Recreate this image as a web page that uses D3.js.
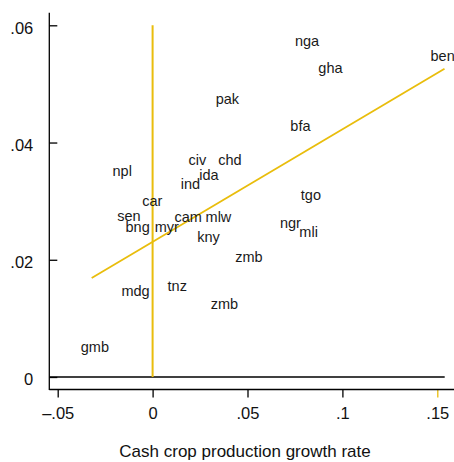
<!DOCTYPE html>
<html>
<head>
<meta charset="utf-8">
<script src="https://cdn.jsdelivr.net/npm/d3@7"></script>
<style>
  html, body { margin: 0; padding: 0; background: #fff; }
  svg { display: block; font-family: "Liberation Sans", Arial, Helvetica, sans-serif; }
</style>
</head>
<body>
<svg id="chart" width="454" height="462"></svg>
<script>
// Country codes and their (cash crop growth, outcome growth) coordinates
const countries = ["nga", "gha", "ben", "pak", "bfa", "civ", "chd", "npl", "ida", "ind",
                   "car", "tgo", "sen", "cam", "mlw", "bng", "myr", "ngr", "mli", "kny",
                   "zmb", "mdg", "tnz", "zmb", "gmb"];
const cropGrowth = [0.0814, 0.0937, 0.1528, 0.0394, 0.0779, 0.0236, 0.0407, -0.0160, 0.0297, 0.0199,
                    -0.0002, 0.0834, -0.0125, 0.0187, 0.0347, -0.0079, 0.0075, 0.0726, 0.0822, 0.0295,
                    0.0507, -0.0090, 0.0130, 0.0378, -0.0304];
const outcomeGrowth = [0.0573, 0.0528, 0.0548, 0.0475, 0.0428, 0.0370, 0.0370, 0.0351, 0.0344, 0.0330,
                       0.0301, 0.0311, 0.0275, 0.0273, 0.0273, 0.0256, 0.0256, 0.0262, 0.0248, 0.0239,
                       0.0205, 0.0147, 0.0156, 0.0124, 0.0051];

// Fitted line endpoints
const fitX = [-0.0321, 0.1538];
const fitY = [0.0169, 0.0526];

// Axis ticks
const xTicks = [-0.05, 0, 0.05, 0.1, 0.15];
const xTickLabels = ["\u2013.05", "0", ".05", ".1", ".15"];
const yTicks = [0, 0.02, 0.04, 0.06];
const yTickLabels = ["0", ".02", ".04", ".06"];
const xTitle = "Cash crop production growth rate";

const gold = "#e9bd0c";
const svg = d3.select("#chart");

const x = d3.scaleLinear().domain([-0.05, 0.15]).range([57.7, 437.3]);
const y = d3.scaleLinear().domain([0, 0.06]).range([377, 25.3]);

const axisLeftX = 49.3, axisBottomY = 389.5;

// Y axis: line, inward ticks, labels on the left
const yAxis = d3.axisLeft(y)
  .tickValues(yTicks)
  .tickFormat((d, i) => yTickLabels[i])
  .tickSizeInner(-8)
  .tickSizeOuter(0)
  .tickPadding(16);
const gy = svg.append("g").attr("transform", `translate(${axisLeftX},0)`).call(yAxis);
gy.select(".domain").remove();
gy.selectAll(".tick line").attr("stroke", "#000").attr("stroke-width", 1.3);
gy.selectAll(".tick text")
  .attr("font-size", 16.5)
  .attr("fill", "#111")
  .attr("font-family", "Liberation Sans, Arial, sans-serif")
  .attr("dy", "0.48em");

svg.append("line")
  .attr("x1", axisLeftX).attr("x2", axisLeftX)
  .attr("y1", 12.7).attr("y2", axisBottomY + 0.6)
  .attr("stroke", "#000").attr("stroke-width", 1.3);

// X axis
const xAxis = d3.axisBottom(x)
  .tickValues(xTicks)
  .tickFormat((d, i) => xTickLabels[i])
  .tickSizeInner(8)
  .tickSizeOuter(0)
  .tickPadding(10);
const gx = svg.append("g").attr("transform", `translate(0,${axisBottomY})`).call(xAxis);
gx.select(".domain").remove();
gx.selectAll(".tick line")
  .attr("stroke", d => d === 0.15 ? gold : "#000")
  .attr("stroke-width", 1.3);
gx.selectAll(".tick text")
  .attr("font-size", 16.5)
  .attr("fill", "#111")
  .attr("font-family", "Liberation Sans, Arial, sans-serif");

svg.append("line")
  .attr("x1", axisLeftX).attr("x2", 454)
  .attr("y1", axisBottomY).attr("y2", axisBottomY)
  .attr("stroke", "#000").attr("stroke-width", 1.3);

// Reference line at zero
svg.append("line")
  .attr("x1", axisLeftX).attr("x2", 444.7)
  .attr("y1", y(0)).attr("y2", y(0))
  .attr("stroke", "#000").attr("stroke-width", 1.3);

// Vertical line at zero growth
svg.append("line")
  .attr("x1", x(0)).attr("x2", x(0))
  .attr("y1", y(0)).attr("y2", y(0.06))
  .attr("stroke", gold).attr("stroke-width", 2);

// Fitted line
svg.append("path")
  .datum(d3.zip(fitX, fitY))
  .attr("d", d3.line().x(d => x(d[0])).y(d => y(d[1])))
  .attr("fill", "none")
  .attr("stroke", gold)
  .attr("stroke-width", 1.8);

// Country labels centred on their points
svg.append("g")
  .selectAll("text")
  .data(countries.map((c, i) => ({ c, gx: cropGrowth[i], gy: outcomeGrowth[i] })))
  .join("text")
  .attr("x", d => x(d.gx))
  .attr("y", d => y(d.gy))
  .attr("dy", 5)
  .attr("text-anchor", "middle")
  .attr("font-size", 14.5)
  .attr("fill", "#1a1a1a")
  .text(d => d.c);

// Axis title
svg.append("text")
  .attr("x", 245)
  .attr("y", 457)
  .attr("text-anchor", "middle")
  .attr("font-size", 17)
  .attr("fill", "#111")
  .text(xTitle);
</script>
</body>
</html>
